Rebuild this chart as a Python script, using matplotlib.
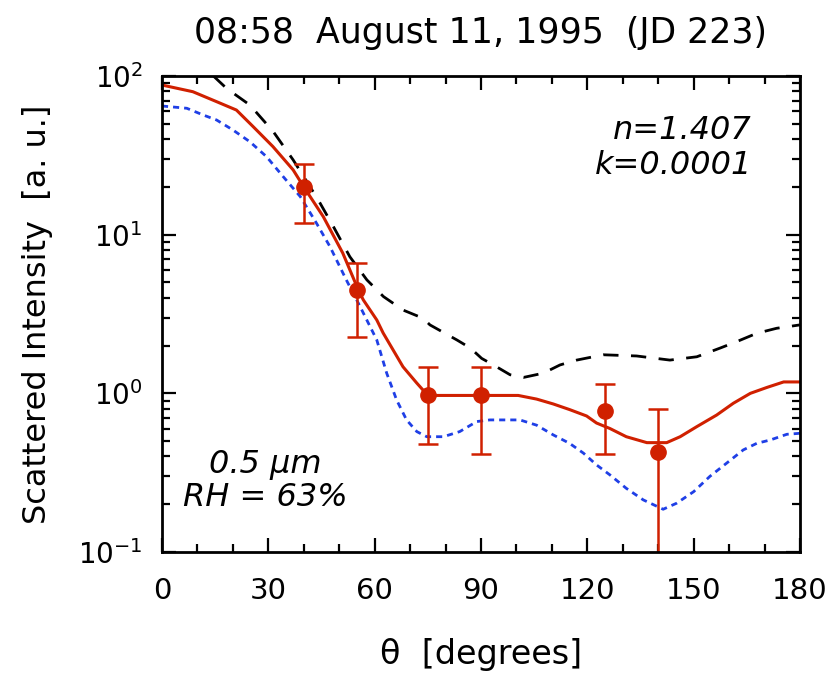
import matplotlib.pyplot as plt
import numpy as np

# measured points
theta_pts = [40, 55, 75, 90, 125, 140]
I_pts = [20, 4.5, 0.97, 0.97, 0.77, 0.43]
err_hi = [27.8, 6.66, 1.47, 1.47, 1.14, 0.80]
err_lo = [11.9, 2.28, 0.477, 0.415, 0.415, 0.09]

# model curves
red_x = [0, 8.7, 15.4, 21, 25.7, 31.3, 37, 40, 45.5, 51, 55.4, 56.8, 60.6, 62.4, 68, 71.9, 75,
         90, 100.5, 105.7, 110.4, 115, 119.8, 122.6, 126.4, 131, 136.8, 142.4, 146.2, 150.9,
         156.5, 161.2, 166, 170.7, 175.4, 180]
red_y = [87.7, 79.6, 68.9, 61, 48, 35.9, 25.6, 20, 13, 7.66, 4.48, 3.88, 2.9, 2.4, 1.47, 1.16, 0.97,
         0.97, 0.97, 0.92, 0.857, 0.79, 0.72, 0.65, 0.60, 0.533, 0.489, 0.489, 0.533, 0.617,
         0.73, 0.866, 1.0, 1.09, 1.18, 1.18]

blue_x = [0, 7, 11.6, 15.4, 20, 24.8, 29.5, 34.2, 39, 43.6, 47.4, 52, 55.9, 60.6, 63.4, 66.2, 69,
          71.9, 74.7, 79.4, 84, 88.8, 92.5, 101, 105.7, 110.4, 115, 118.9, 122.6, 126.4, 131,
          135.8, 141.4, 145.2, 150, 154.6, 159.3, 164, 167.8, 171.6, 176.3, 180]
blue_y = [64.7, 62.6, 56.8, 52.8, 45.7, 38.5, 31, 23.2, 17.4, 11.8, 8.4, 5.19, 3.52, 2.17, 1.34, 0.908, 0.68,
          0.574, 0.533, 0.533, 0.574, 0.664, 0.68, 0.68, 0.63, 0.547, 0.484, 0.42, 0.354, 0.306, 0.252,
          0.213, 0.186, 0.203, 0.24, 0.3, 0.363, 0.44, 0.484, 0.508, 0.552, 0.56]

black_x = [0, 7, 14.5, 18.2, 24.8, 31.4, 37, 41.8, 44.6, 48.4, 53, 57.8, 62.5, 68, 73.7, 75.6, 83.2,
           87, 90.2, 93.5, 98.2, 102, 107.6, 112.3, 117, 124.5, 133.9, 143.3, 150.9, 157.5, 162.2,
           167.8, 173.4, 180]
black_y = [135, 118, 100, 83.6, 65.6, 44.6, 29.6, 20, 15.8, 11.2, 7.26, 5.19, 4.07, 3.35, 2.97, 2.7, 2.17,
           1.93, 1.66, 1.51, 1.31, 1.26, 1.34, 1.51, 1.62, 1.75, 1.72, 1.62, 1.7, 1.93, 2.12,
           2.39, 2.57, 2.7]

red = '#d02000'
blue = '#1f3fe6'

fig = plt.figure(figsize=(8.32, 6.76), dpi=100)
ax = fig.add_axes([0.1947, 0.1834, 0.9615 - 0.1947, 0.8876 - 0.1834])

ax.plot(black_x, black_y, color='black', lw=2, dashes=(5.5, 4.5))
ax.plot(blue_x, blue_y, color=blue, lw=2, dashes=(2.2, 1.8))
ax.plot(red_x, red_y, color=red, lw=2.2)

lo = np.array(I_pts) - np.array(err_lo)
hi = np.array(err_hi) - np.array(I_pts)
ax.errorbar(theta_pts, I_pts, yerr=[lo, hi], fmt='o', color=red, ms=11,
            capsize=7, elinewidth=1.8, capthick=1.8)

ax.set_yscale('log')
ax.set_xlim(0, 180)
ax.set_ylim(0.1, 100)
ax.set_xticks(np.arange(0, 181, 30))
ax.set_xticks(np.arange(0, 181, 10), minor=True)

ax.tick_params(which='both', direction='in', top=True, right=True, labelsize=20, width=1.6)
ax.tick_params(which='major', length=10)
ax.tick_params(which='minor', length=6)
ax.tick_params(axis='x', which='major', pad=18, labelsize=21)
ax.tick_params(axis='y', which='major', pad=14)
for s in ax.spines.values():
    s.set_linewidth(2)

ax.set_xlabel('θ  [degrees]', fontsize=24, labelpad=24)
ax.set_ylabel('Scattered Intensity  [a. u.]', fontsize=23, labelpad=18)
ax.set_title('08:58  August 11, 1995  (JD 223)', fontsize=25, pad=24)

ax.text(0.925, 0.918, 'n=1.407\nk=0.0001', transform=ax.transAxes, ha='right', va='top',
        fontsize=23, style='italic', linespacing=1.15)
ax.text(0.162, 0.149, '0.5 μm\nRH = 63%', transform=ax.transAxes, ha='center', va='center',
        fontsize=23, style='italic', linespacing=1.1)

fig.savefig('out.png', dpi=100)
